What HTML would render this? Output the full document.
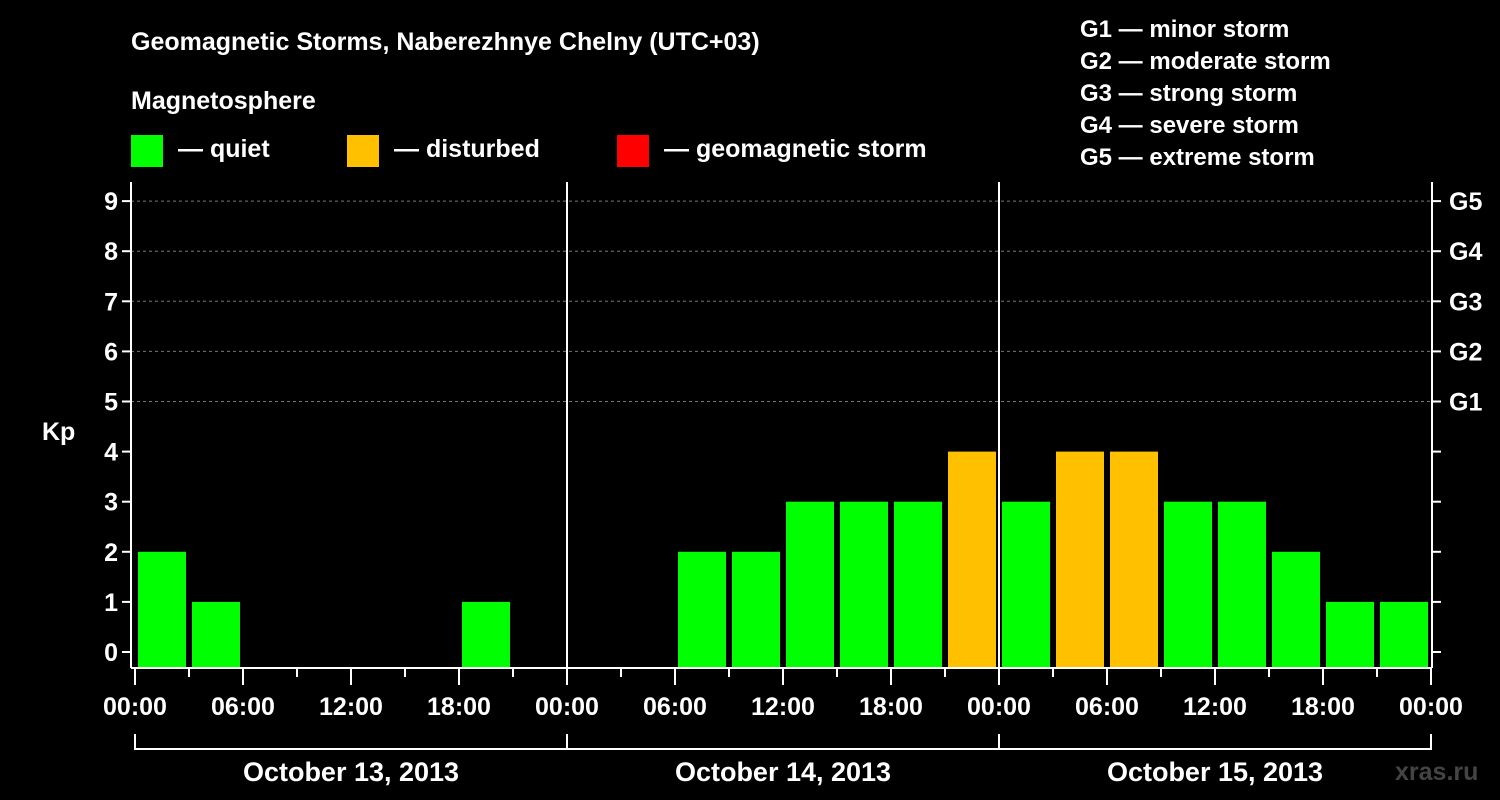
<!DOCTYPE html>
<html><head><meta charset="utf-8"><style>
html,body{margin:0;padding:0;background:#000;}
svg{display:block;font-family:"Liberation Sans",Arial,sans-serif;font-weight:bold;}
</style></head><body>
<svg id="c" width="1500" height="800" xmlns="http://www.w3.org/2000/svg">
<rect width="1500" height="800" fill="#000"/>
<text x="131" y="50" fill="#fff" font-size="25">Geomagnetic Storms, Naberezhnye Chelny (UTC+03)</text>
<text x="131" y="109" fill="#fff" font-size="25">Magnetosphere</text>
<g><rect x="131" y="135" width="32" height="32" fill="#00ff00"/><text x="178" y="157" fill="#fff" font-size="25">— quiet</text></g>
<g><rect x="347" y="135" width="32" height="32" fill="#ffc000"/><text x="394" y="157" fill="#fff" font-size="25">— disturbed</text></g>
<g><rect x="617" y="135" width="32" height="32" fill="#ff0000"/><text x="664" y="157" fill="#fff" font-size="25">— geomagnetic storm</text></g>
<g fill="#fff" font-size="24">
<text x="1080" y="37">G1 — minor storm</text>
<text x="1080" y="69">G2 — moderate storm</text>
<text x="1080" y="101">G3 — strong storm</text>
<text x="1080" y="133">G4 — severe storm</text>
<text x="1080" y="165">G5 — extreme storm</text>
</g>
<text x="42" y="440" fill="#fff" font-size="25">Kp</text>
<g id="grid"></g><g id="bars"></g><g id="axes"></g>
<text x="1395" y="780" fill="#444" font-size="25">xras.ru</text>
</svg>
<script>
const kpValues = [2,1,0,0,0,0,1,0, 0,0,2,2,3,3,3,4, 3,4,4,3,3,2,1,1];
const yTicks = [0,1,2,3,4,5,6,7,8,9];
const gLabels = ["G1","G2","G3","G4","G5"];
const timeLabels = ["00:00","06:00","12:00","18:00"];
const dayLabels = ["October 13, 2013","October 14, 2013","October 15, 2013"];

const NS="http://www.w3.org/2000/svg";
const X0=135, SLOT=54, L=131, R=1432, T=182, B=668;
const y=v=>652-v*50.1;
const x=i=>X0+i*SLOT;
function mk(tag,attrs,parent,txt){const e=document.createElementNS(NS,tag);for(const k in attrs)e.setAttribute(k,attrs[k]);if(txt!==undefined)e.textContent=txt;parent.appendChild(e);return e;}
const grid=document.getElementById('grid'),bars=document.getElementById('bars'),axes=document.getElementById('axes');
yTicks.forEach(v=>{
  if(v>=5){const g=mk('line',{x1:L,x2:R,y1:y(v),y2:y(v),stroke:'#777','stroke-dasharray':'3,3'},grid);
  
  }
  mk('line',{x1:L-9,x2:L,y1:y(v),y2:y(v),stroke:'#fff','stroke-width':2},axes);
  mk('line',{x1:R,x2:R+9,y1:y(v),y2:y(v),stroke:'#fff','stroke-width':2},axes);
  const t=mk('text',{x:L-13,y:y(v)+9,fill:'#fff','font-size':25,'text-anchor':'end'},axes,v);
  
  
  if(v>=5){const g=mk('text',{x:R+17,y:y(v)+9,fill:'#fff','font-size':25},axes,gLabels[v-5]);
  
  }
});
kpValues.forEach((v,i)=>{
  if(v<=0)return;
  const col=v>=5?'#ff0000':(v>=4?'#ffc000':'#00ff00');
  const b=mk('rect',{x:x(i)+3,y:y(v),width:48,height:B-1-y(v),fill:col},bars);
  
  
});
// axes frame
mk('line',{x1:L,x2:L,y1:T,y2:B,stroke:'#fff','stroke-width':2},axes);
mk('line',{x1:R,x2:R,y1:T,y2:B,stroke:'#fff','stroke-width':2},axes);
mk('line',{x1:L,x2:R,y1:B,y2:B,stroke:'#fff','stroke-width':2},axes);
const nDays=dayLabels.length;
for(let d=1;d<nDays;d++){const xd=x(d*8);const l=mk('line',{x1:xd,x2:xd,y1:T,y2:B,stroke:'#fff','stroke-width':2},axes);

}
for(let i=0;i<=nDays*8;i++){
  const long=i%2===0;
  mk('line',{x1:x(i),x2:x(i),y1:B,y2:B+(long?17:9),stroke:'#fff','stroke-width':2},axes);
  if(long){const t=mk('text',{x:x(i),y:B+47,fill:'#fff','font-size':25,'text-anchor':'middle'},axes,timeLabels[(i/2)%4]);
  
  }
}
dayLabels.forEach((lab,d)=>{
  const a=x(d*8),b=x(d*8+8);
  mk('path',{d:`M${a},734V749H${b}V734`,stroke:'#fff','stroke-width':2,fill:'none'},axes);
  const t=mk('text',{x:(a+b)/2,y:781,fill:'#fff','font-size':27,'text-anchor':'middle'},axes,lab);
  
  
});
</script>
</body></html>
